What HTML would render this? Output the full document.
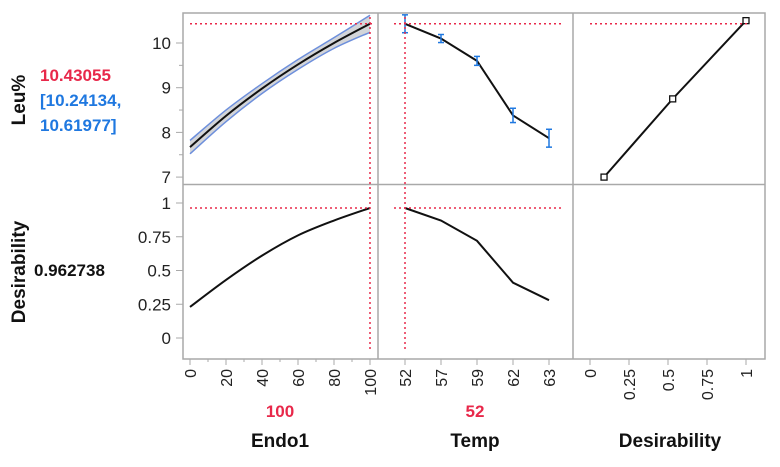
<!DOCTYPE html>
<html><head><meta charset="utf-8"><style>
body{margin:0;background:#fff;font-family:"Liberation Sans",Arial,sans-serif}
</style></head><body>
<svg id="c" width="780" height="462" xmlns="http://www.w3.org/2000/svg" font-family="Liberation Sans, Arial, sans-serif"></svg>
<script>
const endoX=[0,20,40,60,80,100];
const endoLeu=[7.67,8.37,8.98,9.52,10.0,10.43];
const endoLo=[7.52,8.24,8.87,9.41,9.88,10.24];
const endoHi=[7.82,8.50,9.09,9.63,10.12,10.62];
const endoDes=[0.23,0.43,0.61,0.76,0.87,0.963];
const tempCats=["52","57","59","62","63"];
const tempLeu=[10.43,10.1,9.6,8.38,7.87];
const tempErr=[0.2,0.09,0.1,0.16,0.2];
const tempDes=[0.963,0.87,0.72,0.41,0.28];
const desX=[0.09,0.53,1.0];
const desLeu=[7,8.75,10.5];
const leuTicks=[7,8,9,10];
const desTicks=[0,0.25,0.5,0.75,1];
const endoTicks=[0,20,40,60,80,100];
const desAxisTicks=["0","0.25","0.5","0.75","1"];
const curLeu=10.43055, curDes=0.962738, curEndo=100, curTemp="52";

const svg=document.getElementById('c');
const NS='http://www.w3.org/2000/svg';
function mk(t,a,p){const e=document.createElementNS(NS,t);for(const k in a)e.setAttribute(k,a[k]);(p||svg).appendChild(e);return e;}
const yLeu=v=>43+(10-v)*44.7;
const yDes=v=>338-v*135;
const xEndo=v=>190+v*1.8;
const xTemp=i=>405+i*36;
const xDes=v=>590+v*156;
const gray='#a9a9a9', red='#e8284a', blue='#1f78e0';

let f=mk('rect',{x:183,y:13,width:582,height:346,fill:'none',stroke:gray,'stroke-width':1.5});

mk('line',{x1:183,y1:184.5,x2:765,y2:184.5,stroke:gray,'stroke-width':1.5});
mk('line',{x1:378,y1:13,x2:378,y2:359,stroke:gray,'stroke-width':1.5});
mk('line',{x1:573,y1:13,x2:573,y2:359,stroke:gray,'stroke-width':1.5});

function ytick(y,label){mk('line',{x1:176,y1:y,x2:183,y2:y,stroke:gray,'stroke-width':1});
 const t=mk('text',{x:171,y:y+6,'text-anchor':'end','font-size':17,fill:'#222'});t.textContent=label;
 }
leuTicks.forEach(v=>ytick(yLeu(v),String(v)));
for(let v=7.5;v<10.5;v+=1)mk('line',{x1:179,y1:yLeu(v),x2:183,y2:yLeu(v),stroke:gray});
desTicks.forEach(v=>ytick(yDes(v),String(v)));

function xtick(x,label){mk('line',{x1:x,y1:359,x2:x,y2:365,stroke:gray});
 const t=mk('text',{transform:`translate(${x+6},369) rotate(-90)`,'text-anchor':'end','font-size':16,fill:'#222'});t.textContent=label;
 }
endoTicks.forEach(v=>xtick(xEndo(v),String(v)));
for(let v=10;v<100;v+=20)mk('line',{x1:xEndo(v),y1:359,x2:xEndo(v),y2:362,stroke:gray});
tempCats.forEach((c,i)=>xtick(xTemp(i),c));
desAxisTicks.forEach(s=>xtick(xDes(+s),s));

function smooth(pts){let d='M'+pts[0][0]+','+pts[0][1];
 for(let i=0;i<pts.length-1;i++){const p0=pts[Math.max(i-1,0)],p1=pts[i],p2=pts[i+1],p3=pts[Math.min(i+2,pts.length-1)];
  d+=' C'+(p1[0]+(p2[0]-p0[0])/6)+','+(p1[1]+(p2[1]-p0[1])/6)+' '+(p2[0]-(p3[0]-p1[0])/6)+','+(p2[1]-(p3[1]-p1[1])/6)+' '+p2[0]+','+p2[1];}
 return d;}
const hiPts=endoX.map((v,i)=>[xEndo(v),yLeu(endoHi[i])]);
const loPts=endoX.map((v,i)=>[xEndo(v),yLeu(endoLo[i])]).reverse();
let bandD=smooth(hiPts)+' L'+smooth(loPts).slice(1)+' Z';
let b=mk('path',{d:bandD,fill:'#d3d5d9',stroke:'none'});

mk('path',{d:smooth(hiPts),fill:'none',stroke:'#6d8fdc','stroke-width':1.5});
mk('path',{d:smooth(loPts),fill:'none',stroke:'#6d8fdc','stroke-width':1.5});
function curve(xs,ys,name){const p=mk('path',{d:smooth(xs.map((x,i)=>[x,ys[i]])),fill:'none',stroke:'#111','stroke-width':2});
 }
function poly(xs,ys,name){const p=mk('polyline',{points:xs.map((x,i)=>x+','+ys[i]).join(' '),fill:'none',stroke:'#111','stroke-width':2});
 }
curve(endoX.map(xEndo),endoLeu.map(yLeu),'endo1-leu-curve');
curve(endoX.map(xEndo),endoDes.map(yDes),'endo1-desirability-curve');
poly(tempCats.map((c,i)=>xTemp(i)),tempLeu.map(yLeu),'temp-leu-line');
poly(tempCats.map((c,i)=>xTemp(i)),tempDes.map(yDes),'temp-desirability-line');
poly(desX.map(xDes),desLeu.map(yLeu),'desirability-function-line');
tempCats.forEach((c,i)=>{const x=xTemp(i),y1=Math.max(yLeu(tempLeu[i]+tempErr[i]),14),y2=yLeu(tempLeu[i]-tempErr[i]);
 const g=mk('g',{stroke:blue,'stroke-width':1.5});
 
 mk('line',{x1:x,y1:y1,x2:x,y2:y2},g);mk('line',{x1:x-3,y1:y1,x2:x+3,y2:y1},g);mk('line',{x1:x-3,y1:y2,x2:x+3,y2:y2},g);});
desX.forEach((v,i)=>{const r=mk('rect',{x:xDes(v)-3,y:yLeu(desLeu[i])-3,width:6,height:6,fill:'#fff',stroke:'#111','stroke-width':1.3});
 });

const dash={stroke:red,'stroke-width':1.5,'stroke-dasharray':'2,3'};
function dl(a,name){const l=mk('line',Object.assign({},a,dash));}
dl({x1:190,y1:yLeu(curLeu),x2:xEndo(100)+2,y2:yLeu(curLeu)},'leu-crosshair-h');
dl({x1:394,y1:yLeu(curLeu),x2:562,y2:yLeu(curLeu)},'leu-crosshair-h');
dl({x1:590,y1:yLeu(curLeu),x2:748,y2:yLeu(curLeu)},'leu-crosshair-h');
dl({x1:190,y1:yDes(curDes),x2:xEndo(100),y2:yDes(curDes)},'des-crosshair-h');
dl({x1:394,y1:yDes(curDes),x2:562,y2:yDes(curDes)},'des-crosshair-h');
dl({x1:xEndo(curEndo),y1:17,x2:xEndo(curEndo),y2:352},'endo1-crosshair-v');
const ti=tempCats.indexOf(curTemp);
dl({x1:xTemp(ti),y1:17,x2:xTemp(ti),y2:352},'temp-crosshair-v');

function txt(a,s,name,inter){const t=mk('text',a);t.textContent=s;return t;}
txt({transform:'translate(25,100) rotate(-90)','text-anchor':'middle','font-size':19,'font-weight':'bold',fill:'#111'},'Leu%','response-label-leu');
txt({x:40,y:81,'font-size':17,'font-weight':'bold',fill:red},curLeu.toFixed(5),'leu-predicted-value');
txt({x:40,y:106,'font-size':17,'font-weight':'bold',fill:blue},'[10.24134,','leu-ci-lower');
txt({x:40,y:131,'font-size':17,'font-weight':'bold',fill:blue},'10.61977]','leu-ci-upper');
txt({transform:'translate(25,272) rotate(-90)','text-anchor':'middle','font-size':19,'font-weight':'bold',fill:'#111'},'Desirability','response-label-desirability');
txt({x:34,y:276,'font-size':17,'font-weight':'bold',fill:'#111'},String(curDes),'desirability-value');

txt({x:280,y:417,'text-anchor':'middle','font-size':17,'font-weight':'bold',fill:red},String(curEndo),'endo1-current-value',true);
txt({x:475,y:417,'text-anchor':'middle','font-size':17,'font-weight':'bold',fill:red},curTemp,'temp-current-value',true);
txt({x:280,y:447,'text-anchor':'middle','font-size':19,'font-weight':'bold',fill:'#111'},'Endo1','x-axis-title-endo1');
txt({x:475,y:447,'text-anchor':'middle','font-size':19,'font-weight':'bold',fill:'#111'},'Temp','x-axis-title-temp');
txt({x:670,y:447,'text-anchor':'middle','font-size':19,'font-weight':'bold',fill:'#111'},'Desirability','x-axis-title-desirability');
</script>
</body></html>
